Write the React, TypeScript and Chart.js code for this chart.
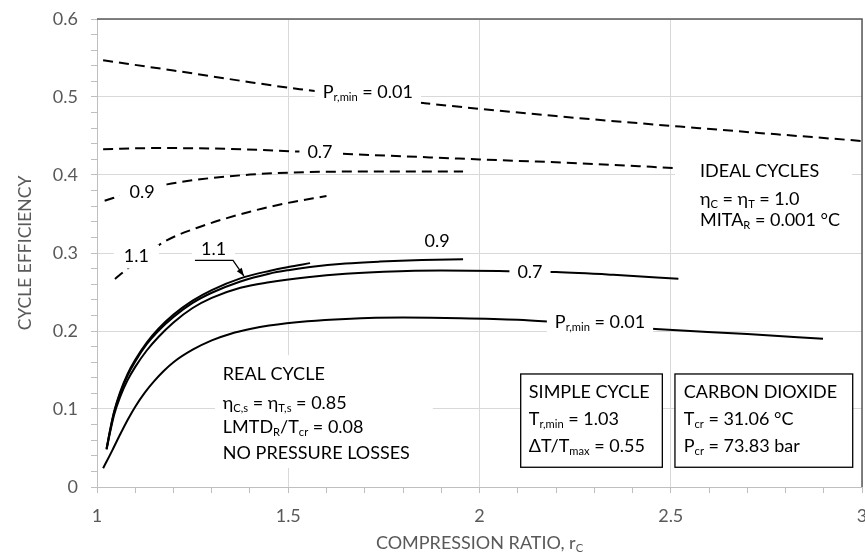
import React, { useEffect, useRef } from 'react';
import { Chart, registerables } from 'chart.js';
Chart.register(...registerables);

const FONT = 'Lato, "Open Sans", sans-serif';

// ---- Ideal cycles (dashed) ----
const idealP001X = [1.016, 1.2, 1.4, 1.53, 1.857, 2.2, 2.576, 3.0];
const idealP001Y = [0.547, 0.534, 0.519, 0.51, 0.492, 0.4755, 0.46, 0.4436];
const idealP07X = [1.016, 1.15, 1.3, 1.53, 1.654, 1.8, 2.0, 2.263, 2.506];
const idealP07Y = [0.433, 0.4345, 0.434, 0.43, 0.427, 0.424, 0.42, 0.415, 0.409];
const idealP09X = [1.02, 1.086, 1.183, 1.27, 1.4, 1.5, 1.7, 1.957];
const idealP09Y = [0.367, 0.377, 0.388, 0.3945, 0.4005, 0.403, 0.4045, 0.4045];
const idealP11X = [1.047, 1.06, 1.1, 1.178, 1.27, 1.4, 1.497, 1.6];
const idealP11Y = [0.2667, 0.272, 0.288, 0.315, 0.3337, 0.353, 0.364, 0.373];

// ---- Real cycles (solid) ----
const realP001X = [1.016, 1.04, 1.06, 1.08, 1.1, 1.125, 1.15, 1.175, 1.2, 1.25, 1.3, 1.35, 1.4, 1.45, 1.55, 1.65, 1.8, 1.95, 2.1, 2.2, 2.46, 2.7, 2.898];
const realP001Y = [0.024, 0.047, 0.067, 0.086, 0.103, 0.121, 0.136, 0.149, 0.16, 0.176, 0.188, 0.1965, 0.2025, 0.207, 0.2125, 0.2155, 0.2172, 0.2165, 0.2145, 0.2115, 0.2026, 0.196, 0.19];
const realP07X = [1.025, 1.035, 1.045, 1.06, 1.08, 1.1, 1.13, 1.16, 1.2, 1.25, 1.3, 1.375, 1.45, 1.55, 1.65, 1.75, 1.9, 2.05, 2.2, 2.35, 2.52];
const realP07Y = [0.048, 0.072, 0.093, 0.115, 0.137, 0.154, 0.175, 0.192, 0.211, 0.2295, 0.2425, 0.2555, 0.2625, 0.269, 0.2735, 0.276, 0.2775, 0.277, 0.2755, 0.272, 0.267];
const realP09X = [1.025, 1.035, 1.045, 1.06, 1.08, 1.1, 1.13, 1.16, 1.2, 1.25, 1.3, 1.375, 1.45, 1.5, 1.557, 1.65, 1.74, 1.85, 1.957];
const realP09Y = [0.049, 0.074, 0.096, 0.119, 0.143, 0.161, 0.183, 0.2, 0.218, 0.236, 0.249, 0.2635, 0.2735, 0.278, 0.282, 0.2865, 0.289, 0.291, 0.292];
const realP11X = [1.025, 1.035, 1.045, 1.06, 1.08, 1.1, 1.13, 1.16, 1.2, 1.25, 1.3, 1.375, 1.45, 1.5, 1.557];
const realP11Y = [0.049, 0.075, 0.097, 0.121, 0.145, 0.163, 0.185, 0.2025, 0.221, 0.239, 0.2525, 0.2675, 0.277, 0.282, 0.287];

const xMajorTicks = [1, 1.5, 2, 2.5, 3];
const yMajorTicks = [0, 0.1, 0.2, 0.3, 0.4, 0.5, 0.6];

type Seg = [string, boolean?];

const pts = (xs: number[], ys: number[]) => xs.map((x, i) => ({ x, y: ys[i] }));
const near = (v: number, arr: number[]) => arr.some((a) => Math.abs(a - v) < 1e-6);

const font = (s: number) => `${s}px ${FONT}`;
function segsWidth(ctx: CanvasRenderingContext2D, segs: Seg[], size: number) {
  let w = 0;
  for (const [t, sub] of segs) {
    ctx.font = font(sub ? size * 0.62 : size);
    w += ctx.measureText(t).width;
  }
  return w;
}
function drawSegs(ctx: CanvasRenderingContext2D, segs: Seg[], x: number, y: number, size: number, color = '#000') {
  ctx.textBaseline = 'middle';
  ctx.textAlign = 'left';
  ctx.fillStyle = color;
  let cx = x;
  for (const [t, sub] of segs) {
    const s = sub ? size * 0.62 : size;
    ctx.font = font(s);
    ctx.fillText(t, cx, sub ? y + size * 0.3 : y);
    cx += ctx.measureText(t).width;
  }
  return cx;
}

const TXT = 18;

const annotPlugin = {
  id: 'annot',
  afterDatasetsDraw(chart: any) {
    const ctx: CanvasRenderingContext2D = chart.ctx;
    const xs = chart.scales.x;
    const ys = chart.scales.y;
    const px = (v: number) => xs.getPixelForValue(v);
    const py = (v: number) => ys.getPixelForValue(v);
    ctx.save();

    const label = (segs: Seg[], x: number, y: number, padX = 8) => {
      const w = segsWidth(ctx, segs, TXT);
      const cx = px(x), cy = py(y);
      ctx.fillStyle = '#fff';
      ctx.fillRect(cx - w / 2 - padX, cy - TXT / 2 - 3, w + 2 * padX, TXT + 6);
      drawSegs(ctx, segs, cx - w / 2, cy, TXT);
    };
    label([['P'], ['r,min', true], [' = 0.01']], 1.708, 0.506);
    label([['0.7']], 1.583, 0.4295);
    label([['0.9']], 1.118, 0.378, 10);
    label([['1.1']], 1.103, 0.2955, 10);
    label([['0.7']], 2.132, 0.2756);
    label([['P'], ['r,min', true], [' = 0.01']], 2.315, 0.2115);
    label([['0.9']], 1.889, 0.3154, 10);
    label([['1.1']], 1.3046, 0.305, 9);

    // leader arrow for real 1.1
    ctx.strokeStyle = '#000';
    ctx.lineWidth = 1.3;
    ctx.beginPath();
    ctx.moveTo(px(1.256), py(0.2905));
    ctx.lineTo(px(1.3556), py(0.2905));
    const tx = px(1.384), ty = py(0.2705);
    ctx.lineTo(tx, ty);
    ctx.stroke();
    const ang = Math.atan2(ty - py(0.2905), tx - px(1.3556));
    ctx.fillStyle = '#000';
    ctx.beginPath();
    ctx.moveTo(tx, ty);
    ctx.lineTo(tx - 8 * Math.cos(ang) + 3 * Math.sin(ang), ty - 8 * Math.sin(ang) - 3 * Math.cos(ang));
    ctx.lineTo(tx - 8 * Math.cos(ang) - 3 * Math.sin(ang), ty - 8 * Math.sin(ang) + 3 * Math.cos(ang));
    ctx.closePath();
    ctx.fill();

    const block = (lines: Seg[][], x: number, ysArr: number[], bg: [number, number, number, number], border: boolean) => {
      const [x0, y0, x1, y1] = bg;
      ctx.fillStyle = '#fff';
      ctx.fillRect(px(x0), py(y0), px(x1) - px(x0), py(y1) - py(y0));
      if (border) {
        ctx.strokeStyle = '#000';
        ctx.lineWidth = 1.3;
        ctx.strokeRect(px(x0), py(y0), px(x1) - px(x0), py(y1) - py(y0));
      }
      lines.forEach((segs, i) => drawSegs(ctx, segs, px(x), py(ysArr[i]), TXT));
    };
    block(
      [[['IDEAL CYCLES']], [['η'], ['C', true], [' = η'], ['T', true], [' = 1.0']], [['MITA'], ['R', true], [' = 0.001 °C']]],
      2.5765, [0.405, 0.369, 0.342], [2.511, 0.4218, 2.974, 0.323], false);
    block(
      [[['REAL CYCLE']], [['η'], ['C,s', true], [' = η'], ['T,s', true], [' = 0.85']], [['LMTD'], ['R', true], ['/T'], ['cr', true], [' = 0.08']], [['NO PRESSURE LOSSES']]],
      1.329, [0.1449, 0.1077, 0.0769, 0.0436], [1.3085, 0.169, 1.878, 0.0244], false);
    block(
      [[['SIMPLE CYCLE']], [['T'], ['r,min', true], [' = 1.03']], [['ΔT/T'], ['max', true], [' = 0.55']]],
      2.129, [0.1218, 0.0872, 0.0526], [2.1077, 0.1449, 2.478, 0.0253], true);
    block(
      [[['CARBON DIOXIDE']], [['T'], ['cr', true], [' = 31.06 °C']], [['P'], ['cr', true], [' = 73.83 bar']]],
      2.534, [0.1218, 0.0872, 0.0526], [2.511, 0.1449, 2.9757, 0.0253], true);

    ctx.restore();
  },
  afterDraw(chart: any) {
    const ctx: CanvasRenderingContext2D = chart.ctx;
    const a = chart.chartArea;
    ctx.save();
    ctx.strokeStyle = '#595959';
    ctx.lineWidth = 1.5;
    ctx.beginPath();
    ctx.moveTo(a.left, a.top);
    ctx.lineTo(a.right, a.top);
    ctx.lineTo(a.right, a.bottom);
    ctx.stroke();
    const xt: Seg[] = [['COMPRESSION RATIO, r'], ['C', true]];
    const w = segsWidth(ctx, xt, 18);
    drawSegs(ctx, xt, (a.left + a.right) / 2 - w / 2, 543, 18, '#595959');
    ctx.translate(25, (a.top + a.bottom) / 2);
    ctx.rotate(-Math.PI / 2);
    ctx.font = font(17.5);
    ctx.fillStyle = '#595959';
    ctx.textAlign = 'center';
    ctx.textBaseline = 'middle';
    ctx.fillText('CYCLE EFFICIENCY', 0, 0);
    ctx.restore();
  },
};

export default function App() {
  const ref = useRef<HTMLCanvasElement>(null);
  useEffect(() => {
    const solid = (xs: number[], ys: number[]) => ({
      data: pts(xs, ys), showLine: true, borderColor: '#000', borderWidth: 2, pointRadius: 0,
      cubicInterpolationMode: 'monotone' as const, fill: false,
    });
    const dashed = (xs: number[], ys: number[]) => ({ ...solid(xs, ys), borderDash: [10, 6] });
    const chart = new Chart(ref.current!, {
      type: 'scatter',
      data: {
        datasets: [
          dashed(idealP001X, idealP001Y),
          dashed(idealP07X, idealP07Y),
          dashed(idealP09X, idealP09Y),
          dashed(idealP11X, idealP11Y),
          solid(realP001X, realP001Y),
          solid(realP07X, realP07Y),
          solid(realP09X, realP09Y),
          solid(realP11X, realP11Y),
        ],
      },
      options: {
        animation: false,
        responsive: false,
        maintainAspectRatio: false,
        devicePixelRatio: 1,
        layout: { autoPadding: false, padding: { left: 0, right: 3, top: 19, bottom: 0 } },
        plugins: { legend: { display: false }, tooltip: { enabled: false } },
        scales: {
          x: {
            type: 'linear', min: 1, max: 3,
            afterFit: (s: any) => { s.height = 71; s.paddingLeft = 0; s.paddingRight = 0; },
            border: { color: '#bfbfbf', width: 1 },
            grid: {
              color: (c: any) => (near(c.tick.value, xMajorTicks) && c.tick.value !== 1 ? '#d9d9d9' : 'rgba(0,0,0,0)'),
              tickColor: '#bfbfbf', tickLength: 6, lineWidth: 1,
            },
            ticks: {
              stepSize: 0.1, autoSkip: false, maxRotation: 0, padding: 12,
              color: '#595959', font: { family: FONT, size: 18 },
              callback: (v: any) => (near(Number(v), xMajorTicks) ? String(Math.round(Number(v) * 2) / 2) : ''),
            },
          },
          y: {
            type: 'linear', min: 0, max: 0.6,
            afterFit: (s: any) => { s.width = 97; s.paddingTop = 0; s.paddingBottom = 0; },
            border: { color: '#bfbfbf', width: 1 },
            grid: {
              color: (c: any) => (near(c.tick.value, yMajorTicks) && c.tick.value !== 0 ? '#d9d9d9' : 'rgba(0,0,0,0)'),
              tickColor: '#bfbfbf', tickLength: 6, lineWidth: 1,
            },
            ticks: {
              stepSize: 0.02, autoSkip: false, padding: 13,
              color: '#595959', font: { family: FONT, size: 18 },
              callback: (v: any) => (near(Number(v), yMajorTicks) ? String(Math.round(Number(v) * 10) / 10) : ''),
            },
          },
        },
      },
      plugins: [annotPlugin],
    });
    return () => chart.destroy();
  }, []);
  return (
    <canvas
      ref={ref}
      width={865}
      height={558}
      style={{ position: 'fixed', left: 0, top: 0, width: 865, height: 558, background: '#fff' }}
    />
  );
}
